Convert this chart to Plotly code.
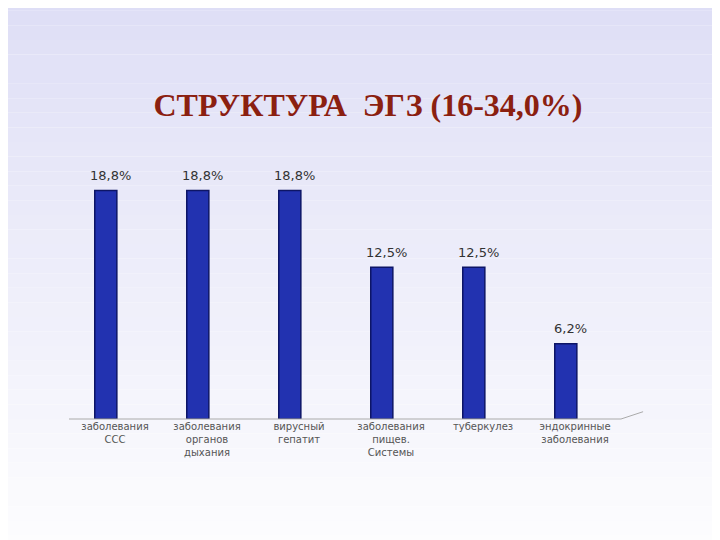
import plotly.graph_objects as go

categories = ["заболевания<br>ССС", "заболевания<br>органов<br>дыхания", "вирусный<br>гепатит",
              "заболевания<br>пищев.<br>Системы", "туберкулез", "эндокринные<br>заболевания"]
values = [18.8, 18.8, 18.8, 12.5, 12.5, 6.2]
labels = ["18,8%", "18,8%", "18,8%", "12,5%", "12,5%", "6,2%"]

fig = go.Figure()
xs = [i - 0.1 for i in range(len(values))]
fig.add_trace(go.Bar(x=xs, y=values, width=0.24,
                     marker=dict(color="#2232b0", line=dict(color="#0d1566", width=1.5)),
                     hoverinfo="skip"))
for x, v, t in zip(xs, values, labels):
    fig.add_annotation(x=x + 0.05, y=v, text=t, showarrow=False, yshift=15,
                       font=dict(family="DejaVu Sans", size=13, color="#333333"))

shapes = []
n = 40
y_top, y_bot = 1.8, -0.6
for k in range(n):
    f = k / n
    r = int(222 + (255 - 222) * f); g = int(222 + (255 - 222) * f); b = int(246 + (255 - 246) * f)
    shapes.append(dict(type="rect", xref="paper", yref="paper", x0=-0.3, x1=1.4,
                       y0=y_top - (k + 1) * (y_top - y_bot) / n, y1=y_top - k * (y_top - y_bot) / n,
                       fillcolor=f"rgb({r},{g},{b})", line=dict(width=0), layer="below"))
shapes.append(dict(type="line", xref="paper", yref="paper", x0=0.0, x1=1.0, y0=0, y1=0,
                   line=dict(color="#aaaaaa", width=1)))
shapes.append(dict(type="line", xref="paper", yref="paper", x0=1.0, x1=1.04, y0=0, y1=0.03,
                   line=dict(color="#aaaaaa", width=1)))

fig.update_layout(
    width=720, height=540, showlegend=False, shapes=shapes,
    paper_bgcolor="white", plot_bgcolor="rgba(0,0,0,0)",
    margin=dict(l=61, r=107, t=168, b=129),
    title=dict(text="<b>СТРУКТУРА  ЭГЗ (16-34,0%)</b>", x=0.5, y=0.82, xanchor="center",
               yanchor="middle",
               font=dict(family="Liberation Serif", size=32, color="#8b2010")),
    xaxis=dict(range=[-0.5, 5.5], tickvals=list(range(6)), ticktext=categories,
               showgrid=False, zeroline=False, showline=False,
               tickfont=dict(family="DejaVu Sans", size=10, color="#555555")),
    yaxis=dict(range=[0, 20], visible=False),
)
fig.write_html("out.html")
